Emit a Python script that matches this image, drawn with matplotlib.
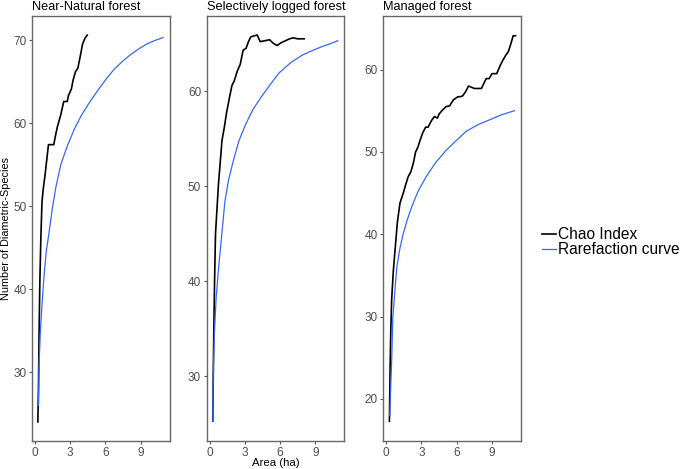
import numpy as np
import matplotlib.pyplot as plt

plt.rcParams['font.family'] = ['Liberation Sans', 'DejaVu Sans']

titles = ['Near-Natural forest', 'Selectively logged forest', 'Managed forest']

# Chao index (black)
chao_x = [
    [0.25, 0.3, 0.35, 0.42, 0.5, 0.6, 0.7, 0.85, 1.0, 1.15, 1.3, 1.6, 1.75, 1.9, 2.2, 2.45, 2.75, 2.85, 3.1, 3.25, 3.45, 3.65, 3.85, 4.05, 4.25, 4.45],
    [0.27, 0.3, 0.35, 0.42, 0.5, 0.62, 0.75, 0.9, 1.05, 1.25, 1.45, 1.7, 1.9, 2.1, 2.35, 2.6, 2.85, 3.1, 3.3, 3.5, 3.75, 4.05, 4.3, 4.7, 5.1, 5.45, 5.75, 6.1, 6.45, 6.8, 7.1, 7.5, 8.05],
    [0.27, 0.33, 0.39, 0.46, 0.6, 0.75, 0.95, 1.17, 1.45, 1.65, 1.87, 2.1, 2.3, 2.5, 2.7, 2.9, 3.1, 3.35, 3.56, 3.85, 4.1, 4.35, 4.5, 4.8, 5.1, 5.4, 5.7, 6.1, 6.3, 6.5, 6.75, 7.0, 7.5, 8.1, 8.3, 8.5, 8.75, 9.0, 9.4, 9.7, 9.95, 10.2, 10.4, 10.6, 10.8, 11.0],
]
chao_y = [
    [24, 28, 34.5, 41, 46, 50.5, 52, 53.6, 55.5, 57.4, 57.4, 57.4, 58.5, 59.5, 61, 62.6, 62.6, 63.3, 64.1, 65.2, 66.2, 66.6, 68, 69.5, 70.2, 70.6],
    [25.3, 29, 34.4, 40, 45, 47.5, 50.2, 52.5, 54.8, 56.2, 57.8, 59.4, 60.6, 61.1, 62.1, 62.8, 64.3, 64.5, 65.2, 65.7, 65.8, 65.9, 65.2, 65.3, 65.4, 65.0, 64.8, 65.1, 65.3, 65.5, 65.6, 65.5, 65.5],
    [17.3, 23.9, 28.5, 32, 35.5, 38.1, 41.5, 43.8, 45, 46, 47, 47.6, 48.6, 50.0, 50.6, 51.5, 52.3, 53, 53.0, 53.8, 54.3, 54.1, 54.6, 55.1, 55.5, 55.6, 56.3, 56.7, 56.7, 56.8, 57.3, 58, 57.7, 57.7, 58.3, 58.9, 58.9, 59.5, 59.5, 60.5, 61.2, 61.8, 62.2, 63.1, 64.1, 64.1],
]

# rarefaction curve (blue)
rare_x = [
    [0.3, 0.35, 0.45, 0.55, 0.7, 0.83, 0.97, 1.2, 1.49, 1.77, 2.2, 2.77, 3.33, 3.9, 4.6, 5.33, 6.0, 6.75, 7.5, 8.18, 8.9, 9.6, 10.3, 10.9],
    [0.27, 0.3, 0.4, 0.55, 0.76, 1.0, 1.3, 1.6, 2.0, 2.5, 3.1, 3.7, 4.4, 5.1, 5.9, 6.9, 7.9, 8.8, 9.6, 10.3, 10.9],
    [0.3, 0.39, 0.47, 0.56, 0.7, 0.9, 1.15, 1.45, 1.8, 2.16, 2.7, 3.4, 4.2, 5.1, 5.9, 6.8, 7.8, 8.8, 9.8, 10.9],
]
rare_y = [
    [26, 31, 34.5, 37, 40.2, 42.5, 44.6, 46.8, 49.8, 52.2, 55.0, 57.3, 59.2, 60.8, 62.4, 63.9, 65.2, 66.5, 67.5, 68.3, 69.0, 69.6, 70.0, 70.3],
    [25.3, 30, 34.4, 38.2, 41.4, 44.5, 48.4, 50.6, 52.6, 54.8, 56.6, 58.1, 59.4, 60.6, 61.9, 63.0, 63.8, 64.3, 64.7, 65.0, 65.3],
    [18, 21.8, 25, 29.9, 32.5, 36, 38.2, 40.1, 41.8, 43.3, 45.2, 47, 48.7, 50.2, 51.3, 52.5, 53.3, 53.9, 54.5, 55.0],
]

y_ticks = [[30, 40, 50, 60, 70], [30, 40, 50, 60], [20, 30, 40, 50, 60]]
y_lims = [(21.7, 72.9), (23.2, 67.9), (14.9, 66.5)]
x_ticks = [0, 3, 6, 9]

fig = plt.figure(figsize=(6.85, 4.69), dpi=100)
lefts = [32 / 685, 206.7 / 685, 383.3 / 685]
width = 137.5 / 685
bottom = 1 - 441 / 469
height = 425 / 469

tick_col = '#4D4D4D'
for i in range(3):
    ax = fig.add_axes([lefts[i], bottom, width, height])
    l1, = ax.plot(chao_x[i], chao_y[i], color='black', lw=1.2, label='Chao Index')
    l2, = ax.plot(rare_x[i], rare_y[i], color='#3366FF', lw=0.9, label='Rarefaction curve')
    ax.set_xlim(-0.25, 11.45)
    ax.set_ylim(*y_lims[i])
    ax.set_xticks(x_ticks)
    ax.set_yticks(y_ticks[i])
    ax.tick_params(colors='#555555', labelcolor=tick_col, labelsize=8.5,
                   length=2.5, width=0.8, pad=1.5)
    for s in ax.spines.values():
        s.set_color('#666666')
        s.set_linewidth(1.0)
    ax.set_title(titles[i], loc='left', fontsize=9.2, pad=4)

fig.text(6 / 685, 1 - 228.5 / 469, 'Number of Diametric-Species', rotation=90,
         ha='center', va='center', fontsize=7.8)
fig.text(275.7 / 685, 1 - 462.5 / 469, 'Area (ha)', ha='center', va='center', fontsize=8.2)

fig.legend(handles=[l1, l2], loc='center left', bbox_to_anchor=(542 / 685, 1 - 242 / 469),
           frameon=False, fontsize=11.2, handlelength=0.9, handletextpad=0.15,
           labelspacing=0.0, borderaxespad=0, borderpad=0)

fig.savefig('out.png', dpi=100)
